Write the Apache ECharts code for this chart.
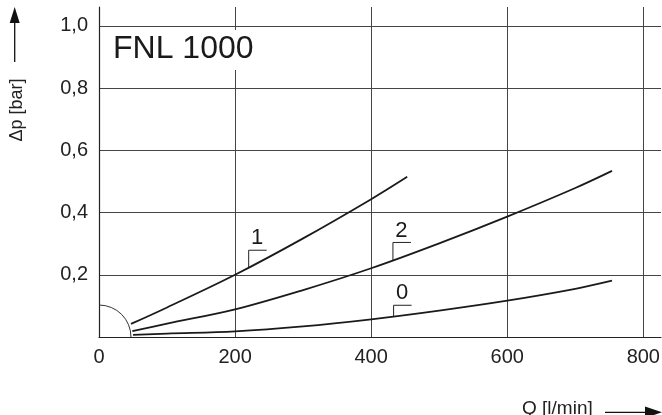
<!DOCTYPE html>
<html><head><meta charset="utf-8">
<script src="https://cdn.jsdelivr.net/npm/echarts@6/dist/echarts.min.js"></script>
<style>html,body{margin:0;padding:0;background:#fff}#c{width:662px;height:415px}</style>
</head><body><div id="c"></div>
<script>
// ---- data ----
const curve1Q = [47, 100, 200, 300, 400, 453];
const curve1P = [0.042, 0.095, 0.200, 0.317, 0.443, 0.515];
const curve2Q = [49, 100, 200, 300, 400, 500, 600, 700, 754];
const curve2P = [0.019, 0.043, 0.089, 0.151, 0.221, 0.301, 0.387, 0.479, 0.534];
const curve0Q = [50, 100, 200, 300, 400, 500, 600, 700, 754];
const curve0P = [0.007, 0.011, 0.018, 0.034, 0.057, 0.085, 0.117, 0.155, 0.181];
const curveLabels = ['1', '2', '0'];
const labelQ = [220, 432, 433];
const labelP = [0.223, 0.247, 0.067];
const labelTopP = [0.279, 0.304, 0.102];
const xTickValues = [0, 200, 400, 600, 800];
const xTickLabels = ['0', '200', '400', '600', '800'];
const yTickValues = [0.2, 0.4, 0.6, 0.8, 1.0];
const yTickLabels = ['0,2', '0,4', '0,6', '0,8', '1,0'];
const originArc = [[0, 0, 47]]; // quarter circle at origin, radius in l/min
const xMax = 826, yMax = 1.061;

const FONT = "'Liberation Sans', Arial, Helvetica, sans-serif";
const INK = '#1a1a1a';

function lookup(vals, labels, v) {
  for (let i = 0; i < vals.length; i++) if (Math.abs(vals[i] - v) < 1e-6) return labels[i];
  return '';
}
function pairs(xs, ys) { return xs.map((x, i) => [x, ys[i]]); }

const chart = echarts.init(document.getElementById('c'));
const lineStyle = { color: INK, width: 1.8 };
chart.setOption({
  animation: false,
  backgroundColor: '#fff',
  title: {
    text: 'FNL 1000', left: 108, top: 30, padding: [3, 5, 5, 5],
    backgroundColor: '#fff',
    textStyle: { fontSize: 32, fontWeight: 'normal', color: INK, fontFamily: FONT }
  },
  grid: { left: 99, right: 1, top: 7, bottom: 78, containLabel: false, outerBoundsMode: 'none' },
  xAxis: {
    type: 'value', min: 0, max: xMax, interval: 200,
    axisLine: { show: true, onZero: false, lineStyle: { color: '#222', width: 1.2 } },
    axisTick: { show: false },
    splitLine: { show: true, showMinLine: false, showMaxLine: false, lineStyle: { color: '#444', width: 1 } },
    axisLabel: { fontSize: 20, color: '#222', margin: 10, fontFamily: FONT, showMaxLabel: false,
      formatter: v => lookup(xTickValues, xTickLabels, v) }
  },
  yAxis: {
    type: 'value', min: 0, max: yMax, interval: 0.2,
    axisLine: { show: true, onZero: false, lineStyle: { color: '#222', width: 1.2 } },
    axisTick: { show: false },
    splitLine: { show: true, showMinLine: false, showMaxLine: false, lineStyle: { color: '#444', width: 1 } },
    axisLabel: { fontSize: 20, color: '#222', margin: 11, fontFamily: FONT, showMaxLabel: false,
      formatter: v => lookup(yTickValues, yTickLabels, v) }
  },
  graphic: [
    { type: 'text', x: 17, y: 110, rotation: Math.PI / 2,
      style: { text: 'Δp [bar]', fontSize: 18, fill: '#222', align: 'center', verticalAlign: 'middle', fontFamily: FONT } },
    { type: 'line', shape: { x1: 14.7, y1: 62, x2: 14.7, y2: 20 }, style: { stroke: '#111', lineWidth: 1.3 } },
    { type: 'polygon', shape: { points: [[14.7, 7], [9.7, 23], [19.7, 23]] }, style: { fill: '#111' } },
    { type: 'text', x: 522, y: 408.5,
      style: { text: 'Q [l/min]', fontSize: 19, fill: '#222', align: 'left', verticalAlign: 'middle', fontFamily: FONT } },
    { type: 'line', shape: { x1: 605, y1: 412.3, x2: 648, y2: 412.3 }, style: { stroke: '#111', lineWidth: 1.3 } },
    { type: 'polygon', shape: { points: [[662, 412.3], [645, 406.5], [645, 418]] }, style: { fill: '#111' } }
  ],
  series: [
    { name: '1', type: 'line', data: pairs(curve1Q, curve1P), showSymbol: false, smooth: 0.35, lineStyle },
    { name: '2', type: 'line', data: pairs(curve2Q, curve2P), showSymbol: false, smooth: 0.35, lineStyle },
    { name: '0', type: 'line', data: pairs(curve0Q, curve0P), showSymbol: false, smooth: 0.35, lineStyle },
    { type: 'custom', data: originArc, silent: true,
      renderItem: (params, api) => {
        const c = api.coord([api.value(0), api.value(1)]);
        const r = api.size([api.value(2), 0])[0];
        return { type: 'arc', shape: { cx: c[0], cy: c[1], r: r, startAngle: -Math.PI / 2, endAngle: 0, clockwise: true },
          style: { stroke: '#333', fill: null, lineWidth: 1 } };
      } },
    { type: 'custom', silent: true,
      data: labelQ.map((q, i) => [q, labelP[i], labelTopP[i], i]),
      renderItem: (params, api) => {
        const a = api.coord([api.value(0), api.value(1)]);
        const t = api.coord([api.value(0), api.value(2)]);
        const idx = api.value(3);
        return { type: 'group', children: [
          { type: 'polyline', shape: { points: [a, [a[0], t[1]], [a[0] + 18, t[1]]] },
            style: { stroke: '#222', lineWidth: 1, fill: null } },
          { type: 'text', style: { x: a[0] + 8.5, y: t[1] - 12, text: curveLabels[idx], fontSize: 22,
              fill: INK, align: 'center', verticalAlign: 'middle', fontFamily: FONT } }
        ] };
      } }
  ]
});
</script></body></html>
